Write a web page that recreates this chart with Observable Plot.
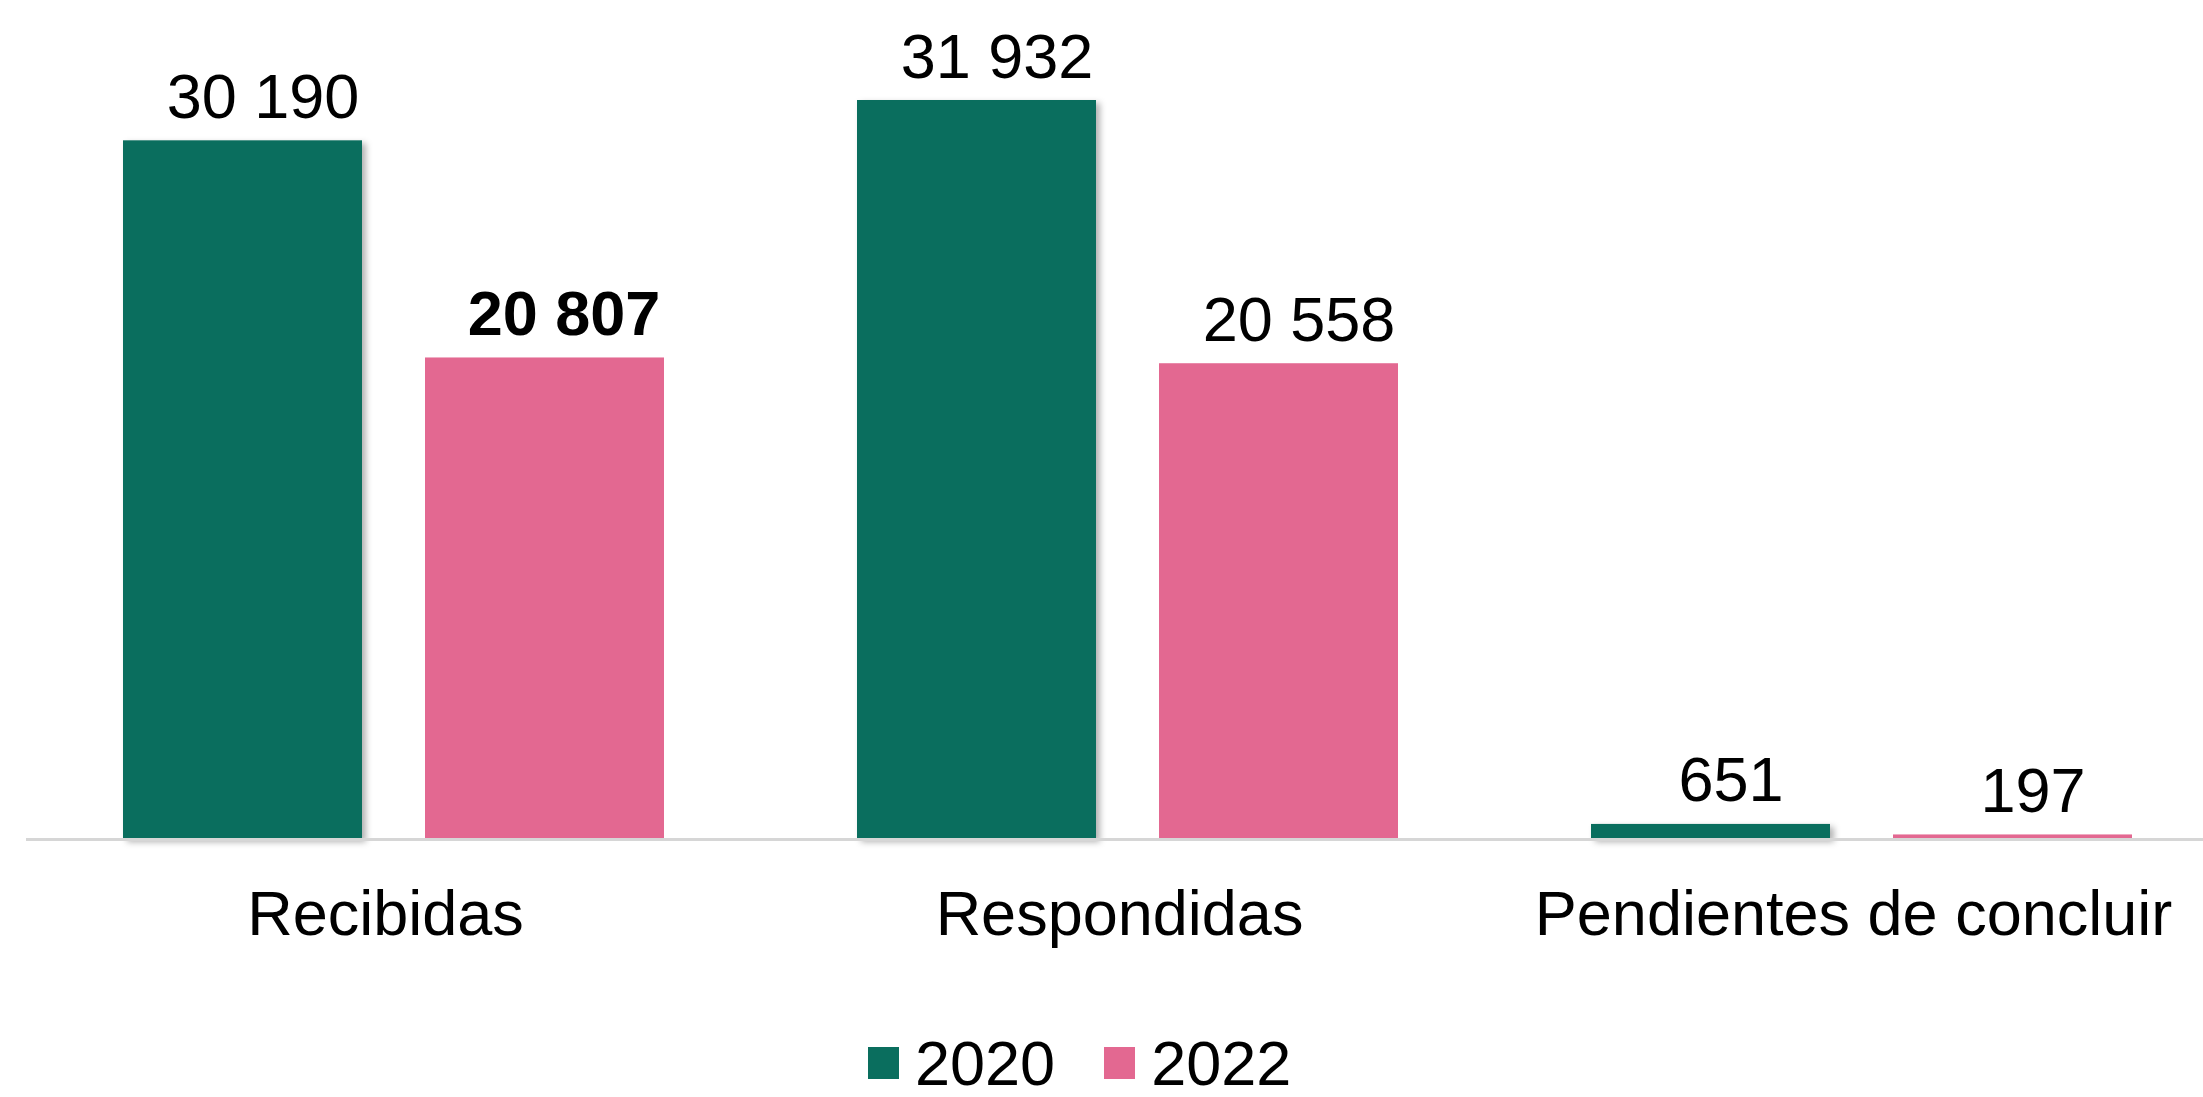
<!DOCTYPE html>
<html>
<head>
<meta charset="utf-8">
<script src="https://cdn.jsdelivr.net/npm/d3@7"></script>
<script src="https://cdn.jsdelivr.net/npm/@observablehq/plot@0.6"></script>
<style>
  html, body { margin: 0; padding: 0; background: white; overflow: hidden; }
  #chart svg { display: block; max-width: none !important; }
  .legend { display: flex; align-items: center; margin-top: 27px; margin-left: 868px;
            font-family: 'Liberation Sans', Arial, sans-serif; font-size: 63px; color: black; line-height: normal; }
  .legend .sw { display: inline-block; width: 31px; height: 32px; margin-right: 16px; }
  .legend .item { display: inline-flex; align-items: center; margin-right: 49px; }
</style>
</head>
<body>
<div id="chart"></div>
<div class="legend" id="legend"></div>
<script>
const categories = ["Recibidas", "Respondidas", "Pendientes de concluir"];
const years = ["2020", "2022"];
const values2020 = [30190, 31932, 651];
const values2022 = [20807, 20558, 197];
const colors = ["#0A6E5E", "#E36891"];
const boldLabel = {cat: "Recibidas", year: "2022"};

const fmt = d3.formatLocale({decimal: ",", thousands: " ", grouping: [3], currency: ["", ""]}).format(",d");

const rows = [];
categories.forEach((c, i) => {
  rows.push({cat: c, year: years[0], value: values2020[i]});
  rows.push({cat: c, year: years[1], value: values2022[i]});
});
const isBold = d => d.cat === boldLabel.cat && d.year === boldLabel.year;

const plot = Plot.plot({
  width: 2228,
  height: 1000,
  marginLeft: 25,
  marginRight: 0,
  marginTop: 29,
  marginBottom: 161,
  style: {fontFamily: "'Liberation Sans', Arial, sans-serif", fontSize: "63px", color: "black", background: "white", maxWidth: "none"},
  facet: {data: rows, x: "cat"},
  fx: {domain: categories, padding: 0, axis: null, label: null},
  x: {domain: years, paddingInner: 0.21, paddingOuter: 0.32, axis: null, label: null},
  y: {domain: [0, 35000], axis: null, label: null},
  color: {domain: years, range: colors},
  marks: [
    Plot.barY(rows, {x: "year", y: "value", fill: "year"}),
    Plot.ruleY([0], {stroke: "#d6d6d6", strokeWidth: 3}),
    Plot.text(rows, {filter: d => !isBold(d), x: "year", y: "value", text: d => fmt(d.value),
      lineAnchor: "bottom", dy: -23, dx: 20, fontSize: 63, fill: "black"}),
    Plot.text(rows, {filter: isBold, x: "year", y: "value", text: d => fmt(d.value),
      lineAnchor: "bottom", dy: -23, dx: 19, fontSize: 63, fontWeight: "bold", fill: "black"}),
    Plot.text(rows, {filter: d => d.year === years[0], frameAnchor: "bottom", text: "cat",
      lineAnchor: "bottom", dy: 95, dx: -8, fontSize: 63, fill: "black"})
  ]
});
document.getElementById("chart").appendChild(plot);

// subtle shadow on the first series bars (as in the reference)
plot.querySelectorAll("rect").forEach(r => {
  if ((r.getAttribute("fill") || "").toLowerCase() === colors[0].toLowerCase()) {
    r.style.filter = "drop-shadow(4px 3px 3px rgba(0,0,0,0.3))";
  }
});

const legend = document.getElementById("legend");
years.forEach((y, i) => {
  const item = document.createElement("span");
  item.className = "item";
  const sw = document.createElement("span");
  sw.className = "sw";
  sw.style.background = colors[i];
  item.appendChild(sw);
  item.appendChild(document.createTextNode(y));
  legend.appendChild(item);
});
</script>
</body>
</html>
